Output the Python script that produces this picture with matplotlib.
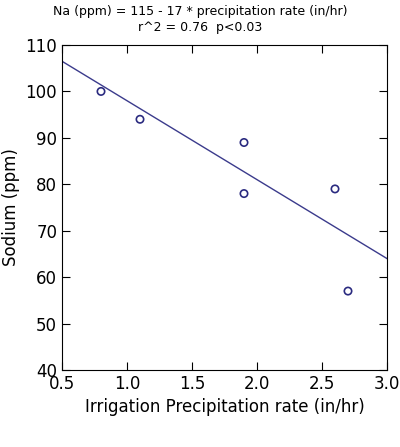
import matplotlib
matplotlib.use("Agg")
import matplotlib.pyplot as plt
import numpy as np

x = [0.8, 1.1, 1.9, 1.9, 2.6, 2.7]
y = [100, 94, 89, 78, 79, 57]
intercept, slope = 115, -17

fig = plt.figure(figsize=(4.0, 4.47), dpi=100)
ax = fig.add_axes([62/400, 1-370/447, 325/400, 325/447])
xl = np.array([0.5, 3.0])
ax.plot(xl, intercept + slope*xl, color="#3b3b8c", lw=1)
ax.scatter(x, y, s=28, facecolors="none", edgecolors="#2b2b80", linewidths=1.2, zorder=3)
ax.set_xlim(0.5, 3.0)
ax.set_ylim(40, 110)
ax.set_xticks(np.arange(0.5, 3.01, 0.5))
ax.set_yticks(np.arange(40, 111, 10))
ax.tick_params(direction="in", top=True, right=True, labelsize=12, length=6)
ax.set_xlabel("Irrigation Precipitation rate (in/hr)", fontsize=12)
ax.set_ylabel("Sodium (ppm)", fontsize=12)
fig.text(0.5, 1-12/447, "Na (ppm) = 115 - 17 * precipitation rate (in/hr)", ha="center", va="center", fontsize=9)
fig.text(0.5, 1-27/447, "r^2 = 0.76  p<0.03", ha="center", va="center", fontsize=9)
fig.savefig("out.png", dpi=100)
